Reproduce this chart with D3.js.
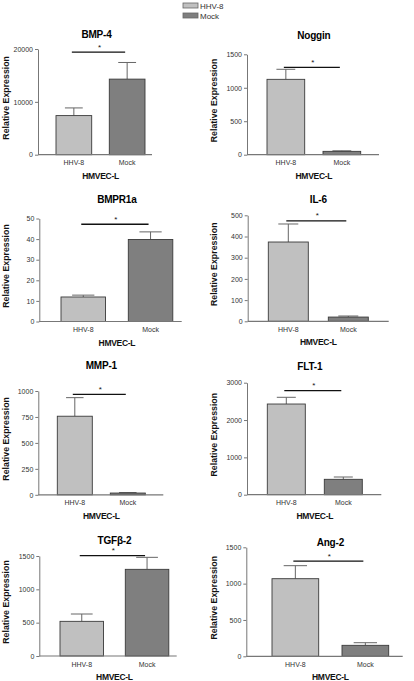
<!DOCTYPE html>
<html>
<head>
<meta charset="utf-8">
<script src="https://cdn.jsdelivr.net/npm/d3@7"></script>
<style>
  html, body { margin: 0; padding: 0; background: #fff; }
  svg { display: block; font-family: "Liberation Sans", Arial, sans-serif; }
</style>
</head>
<body>
<svg id="chart" width="414" height="681"></svg>
<script>
// ---- data ----
const panelTitles = ["BMP-4", "Noggin", "BMPR1a", "IL-6", "MMP-1", "FLT-1", "TGFβ-2", "Ang-2"];
const groups = ["HHV-8", "Mock"];
const hhv8Values = [7400, 1126, 11.9, 374, 757, 2429, 520, 1068];
const mockValues = [14300, 50, 39.8, 20, 17, 412, 1300, 151];
const hhv8Errors = [1450, 150, 0.9, 85, 179, 180, 110, 179];
const mockErrors = [3150, 8, 3.7, 5, 5, 62, 180, 36];
const axisMax = [20000, 1500, 50, 500, 1000, 3000, 1500, 1500];
const tickValues = [
  [0, 10000, 20000],
  [0, 500, 1000, 1500],
  [0, 10, 20, 30, 40, 50],
  [0, 100, 200, 300, 400, 500],
  [0, 250, 500, 750, 1000],
  [0, 1000, 2000, 3000],
  [0, 500, 1000, 1500],
  [0, 500, 1000, 1500]
];
const sigLevel = [19400, 1306, 47.2, 474, 968, 2786, 1505, 1311];
const xAxisTitle = "HMVEC-L";
const yAxisTitle = "Relative Expression";

// ---- layout (pixels) ----
const layout = [
  {ax: 38,    axR: 152,   y0: 154.7, yTop: 49,    b1: 56,    bw: 35.7, b2: 109.3, tY: 34,    tDx: -4, lX: 6},
  {ax: 247,   axR: 379,   y0: 154.7, yTop: 54.3,  b1: 267,   bw: 37.7, b2: 323,   tY: 35,    tDx: 0,  lX: 214},
  {ax: 39.3,  axR: 181.7, y0: 321.5, yTop: 218.5, b1: 61,    bw: 44.5, b2: 128.3, tY: 199.5, tDx: 0,  lX: 6},
  {ax: 247.7, axR: 388.7, y0: 321.3, yTop: 215.3, b1: 268.3, bw: 40,   b2: 328.3, tY: 199.3, tDx: 0,  lX: 214},
  {ax: 38.3,  axR: 163.3, y0: 494.8, yTop: 391,   b1: 57.3,  bw: 35,   b2: 110.3, tY: 365.7, tDx: 0,  lX: 6},
  {ax: 247,   axR: 381.3, y0: 494.7, yTop: 382.7, b1: 267.3, bw: 38,   b2: 324.3, tY: 366.7, tDx: -5, lX: 214},
  {ax: 39.3,  axR: 176.7, y0: 656,   yTop: 556,   b1: 60,    bw: 43.5, b2: 125.3, tY: 540,   tDx: 0,  lX: 6},
  {ax: 246.3, axR: 402.7, y0: 656.3, yTop: 547.3, b1: 272,   bw: 46.7, b2: 342,   tY: 542.7, tDx: 0,  lX: 214}
];

const colors = {"HHV-8": "#c0c0c0", "Mock": "#7f7f7f"};
const svg = d3.select("#chart");

// legend
const legend = svg.append("g");
groups.forEach((g, i) => {
  legend.append("rect")
    .attr("x", 183).attr("y", 3 + i * 10).attr("width", 15).attr("height", 5)
    .attr("fill", colors[g]).attr("stroke", "#666").attr("stroke-width", 0.8);
  legend.append("text")
    .attr("x", 200).attr("y", 8.5 + i * 10)
    .attr("font-size", 8).attr("fill", "#333").text(g);
});

panelTitles.forEach((title, i) => {
  const L = layout[i];
  const g = svg.append("g");
  const values = [hhv8Values[i], mockValues[i]];
  const errs = [hhv8Errors[i], mockErrors[i]];

  const step = L.b2 - L.b1;
  const x = d3.scaleBand().domain(groups)
    .range([L.b1, L.b2 + L.bw])
    .paddingInner(1 - L.bw / step).paddingOuter(0);
  const y = d3.scaleLinear().domain([0, axisMax[i]]).range([L.y0, L.yTop]);

  // y axis
  const yAxis = d3.axisLeft(y).tickValues(tickValues[i]).tickSize(3).tickSizeOuter(0)
    .tickFormat(d3.format("d"));
  const ya = g.append("g").attr("transform", `translate(${L.ax},0)`).call(yAxis);
  ya.select(".domain").attr("stroke", "#777").attr("stroke-width", 1);
  ya.selectAll(".tick line").attr("stroke", "#777");
  ya.selectAll(".tick text").attr("font-size", 7).attr("fill", "#333").attr("x", -5)
    .attr("font-family", "Liberation Sans, Arial, sans-serif");

  // error bars (drawn first so bar top covers lower part)
  groups.forEach((grp, k) => {
    const cx = x(grp) + x.bandwidth() / 2;
    const cap = x.bandwidth() / 4;
    g.append("line")
      .attr("x1", cx).attr("x2", cx)
      .attr("y1", y(values[k])).attr("y2", y(values[k] + errs[k]))
      .attr("stroke", "#666").attr("stroke-width", 1);
    g.append("line")
      .attr("x1", cx - cap).attr("x2", cx + cap)
      .attr("y1", y(values[k] + errs[k])).attr("y2", y(values[k] + errs[k]))
      .attr("stroke", "#666").attr("stroke-width", 1);
  });

  // bars
  g.selectAll("rect.bar").data(groups).enter().append("rect")
    .attr("class", "bar")
    .attr("x", d => x(d))
    .attr("y", (d, k) => y(values[k]))
    .attr("width", x.bandwidth())
    .attr("height", (d, k) => L.y0 - y(values[k]))
    .attr("fill", d => colors[d])
    .attr("stroke", "#3a3a3a").attr("stroke-width", 0.9);

  // x axis line
  g.append("line")
    .attr("x1", L.ax).attr("x2", L.axR).attr("y1", L.y0).attr("y2", L.y0)
    .attr("stroke", "#777").attr("stroke-width", 1.2);

  // x tick labels
  groups.forEach(grp => {
    g.append("text")
      .attr("x", x(grp) + x.bandwidth() / 2).attr("y", L.y0 + 10.5)
      .attr("text-anchor", "middle").attr("font-size", 7).attr("fill", "#333")
      .text(grp);
  });

  const c1 = x(groups[0]) + x.bandwidth() / 2;
  const c2 = x(groups[1]) + x.bandwidth() / 2;
  const mid = (c1 + c2) / 2;

  // x axis title
  g.append("text")
    .attr("x", mid).attr("y", L.y0 + 24)
    .attr("text-anchor", "middle").attr("font-size", 8.5).attr("font-weight", "bold")
    .attr("fill", "#111").attr("letter-spacing", -0.3)
    .text(xAxisTitle);

  // y axis title
  g.append("text")
    .attr("transform", `translate(${L.lX},${(L.y0 + L.yTop) / 2 - 4}) rotate(-90)`)
    .attr("text-anchor", "middle").attr("dominant-baseline", "central")
    .attr("font-size", 8.8).attr("font-weight", "bold").attr("fill", "#111")
    .text(yAxisTitle);

  // panel title
  g.append("text")
    .attr("x", mid + L.tDx).attr("y", L.tY + 3.6)
    .attr("text-anchor", "middle").attr("font-size", 10).attr("font-weight", "bold")
    .attr("fill", "#000").attr("letter-spacing", -0.2)
    .text(title);

  // significance line and star
  const sy = y(sigLevel[i]);
  g.append("line")
    .attr("x1", c1 - 2).attr("x2", c2 - 2).attr("y1", sy).attr("y2", sy)
    .attr("stroke", "#111").attr("stroke-width", 1.3);
  g.append("text")
    .attr("x", mid - 1).attr("y", sy - 2.5)
    .attr("text-anchor", "middle").attr("font-size", 8).attr("fill", "#111")
    .text("*");
});
</script>
</body>
</html>
